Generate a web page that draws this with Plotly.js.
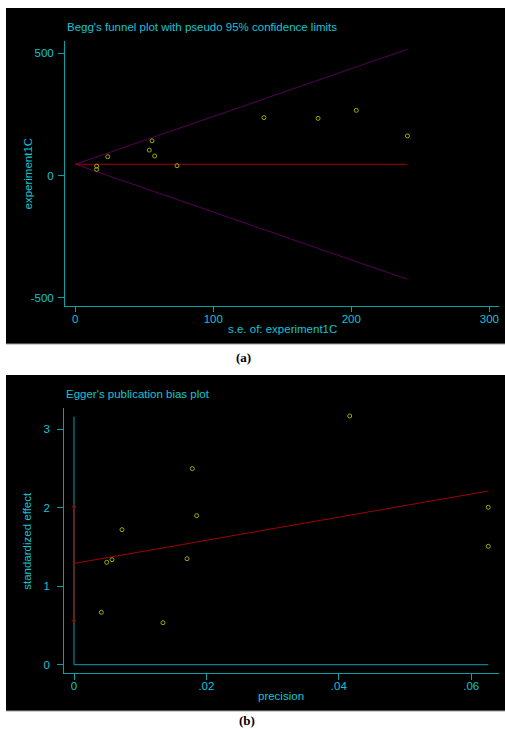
<!DOCTYPE html>
<html>
<head>
<meta charset="utf-8">
<script src="https://cdn.plot.ly/plotly-3.0.1.min.js"></script>
<style>
html,body{margin:0;padding:0;background:#fff;}
#chart{width:505px;height:729px;}
</style>
</head>
<body>
<div id="chart"></div>
<script>
// ---- Panel (a): Begg's funnel plot ----
const beggSE = [15.5, 15.5, 23.5, 53.6, 55.6, 57.5, 73.7, 136.7, 175.9, 203.6, 240.6];
const beggEffect = [38, 25, 77, 104, 142, 80, 40, 237, 234, 267, 162];
const pooledX = [0, 240.6];
const pooledY = [46, 46];
const funnelX = [0, 240.6];
const funnelUpper = [46, 517];
const funnelLower = [46, -425];
const beggYTicks = [-500, 0, 500];
const beggYTickText = ['-500', '0', '500'];
const beggXTicks = [0, 100, 200, 300];
const beggXTickText = ['0', '100', '200', '300'];

// ---- Panel (b): Egger's publication bias plot ----
const precision = [0.04165, 0.01787, 0.01853, 0.00725, 0.06258, 0.06258, 0.00494, 0.00574, 0.01707, 0.00413, 0.01344];
const stdEffect = [3.168, 2.497, 1.898, 1.720, 2.005, 1.508, 1.304, 1.338, 1.350, 0.667, 0.535];
const eggerLineX = [0, 0.0626];
const eggerLineY = [1.29, 2.213];
const interceptCIX = [0, 0];
const interceptCIY = [0.56, 2.013];
const refVertX = [0, 0];
const refVertY = [0, 3.16];
const refHorizX = [0, 0.0626];
const refHorizY = [0, 0];
const eggerYTicks = [0, 1, 2, 3];
const eggerYTickText = ['0', '1', '2', '3'];
const eggerXTicks = [0, 0.02, 0.04, 0.06];
const eggerXTickText = ['0', '.02', '.04', '.06'];

const W = 505, H = 729;
const px = x => x / W;
const py = y => 1 - y / H;

const TXT = '#14c4d4';
const AX = '#08a0a8';
const PT = '#a8a800';
const RED = '#a00000';
const PUR = '#560056';
const FONT = 'Liberation Sans, Arial, sans-serif';
const FS = 11.5;

const traces = [
  {x: funnelX, y: funnelUpper, type: 'scatter', mode: 'lines', line: {color: PUR, width: 1}, xaxis: 'x', yaxis: 'y', hoverinfo: 'skip'},
  {x: funnelX, y: funnelLower, type: 'scatter', mode: 'lines', line: {color: PUR, width: 1}, xaxis: 'x', yaxis: 'y', hoverinfo: 'skip'},
  {x: pooledX, y: pooledY, type: 'scatter', mode: 'lines', line: {color: RED, width: 1}, xaxis: 'x', yaxis: 'y', hoverinfo: 'skip'},
  {x: beggSE, y: beggEffect, type: 'scatter', mode: 'markers', marker: {symbol: 'circle-open', size: 4, color: PT, line: {width: 1, color: PT}}, xaxis: 'x', yaxis: 'y'},

  {x: refVertX, y: refVertY, type: 'scatter', mode: 'lines', line: {color: AX, width: 1}, xaxis: 'x2', yaxis: 'y2', hoverinfo: 'skip'},
  {x: refHorizX, y: refHorizY, type: 'scatter', mode: 'lines', line: {color: AX, width: 1}, xaxis: 'x2', yaxis: 'y2', hoverinfo: 'skip'},
  {x: eggerLineX, y: eggerLineY, type: 'scatter', mode: 'lines', line: {color: RED, width: 1}, xaxis: 'x2', yaxis: 'y2', hoverinfo: 'skip'},
  {x: interceptCIX, y: interceptCIY, type: 'scatter', mode: 'lines+markers', line: {color: RED, width: 1}, marker: {symbol: 'circle-open', size: 3, color: RED, line: {width: 1, color: RED}}, xaxis: 'x2', yaxis: 'y2'},
  {x: precision, y: stdEffect, type: 'scatter', mode: 'markers', marker: {symbol: 'circle-open', size: 4, color: PT, line: {width: 1, color: PT}}, xaxis: 'x2', yaxis: 'y2'}
];

const axisCommon = {
  showline: true, linecolor: AX, linewidth: 1,
  ticks: 'outside', ticklen: 6, tickcolor: AX, tickwidth: 1,
  showgrid: false, zeroline: false,
  tickfont: {family: FONT, size: FS, color: TXT},
  tickmode: 'array', fixedrange: true
};

const layout = {
  width: W, height: H,
  margin: {l: 0, r: 0, t: 0, b: 0},
  paper_bgcolor: '#ffffff',
  plot_bgcolor: '#000000',
  showlegend: false,
  font: {family: FONT, color: TXT, size: FS},
  xaxis: Object.assign({}, axisCommon, {
    domain: [px(65), px(499)], anchor: 'y',
    range: [-7.46, 307.0],
    tickvals: beggXTicks, ticktext: beggXTickText, ticklen: 5, ticklabelstandoff: -3
  }),
  yaxis: Object.assign({}, axisCommon, {
    domain: [py(306), py(41)], anchor: 'x',
    range: [-534.4, 550.8],
    tickvals: beggYTicks, ticktext: beggYTickText, ticklabelstandoff: 2
  }),
  xaxis2: Object.assign({}, axisCommon, {
    domain: [px(64.3), px(499)], anchor: 'y2',
    range: [-0.001465, 0.0642],
    tickvals: eggerXTicks, ticktext: eggerXTickText, ticklabelstandoff: -4
  }),
  yaxis2: Object.assign({}, axisCommon, {
    domain: [py(673.3), py(408.3)], anchor: 'x2',
    range: [-0.1096, 3.266],
    tickvals: eggerYTicks, ticktext: eggerYTickText, ticklabelstandoff: 5
  }),
  shapes: [
    {type: 'rect', xref: 'paper', yref: 'paper', x0: px(6), x1: px(505), y0: py(344), y1: py(8), fillcolor: '#000000', line: {width: 0}, layer: 'below'},
    {type: 'rect', xref: 'paper', yref: 'paper', x0: px(6), x1: px(505), y0: py(711), y1: py(375), fillcolor: '#000000', line: {width: 0}, layer: 'below'},
    {type: 'line', xref: 'paper', yref: 'paper', x0: px(6), x1: px(505), y0: py(344), y1: py(344), line: {color: '#a0a0a0', width: 1}, layer: 'below'},
    {type: 'line', xref: 'paper', yref: 'paper', x0: px(6), x1: px(505), y0: py(711), y1: py(711), line: {color: '#a0a0a0', width: 1}, layer: 'below'}
  ],
  annotations: [
    {text: "Begg's funnel plot with pseudo 95% confidence limits", xref: 'paper', yref: 'paper', x: px(65), y: py(27), xanchor: 'left', yanchor: 'middle', showarrow: false, font: {family: FONT, size: FS, color: TXT}},
    {text: 'experiment1C', xref: 'paper', yref: 'paper', x: px(27), y: py(173.5), xanchor: 'center', yanchor: 'middle', textangle: -90, showarrow: false, font: {family: FONT, size: FS, color: TXT}},
    {text: 's.e. of: experiment1C', xref: 'paper', yref: 'paper', x: px(282), y: py(329), xanchor: 'center', yanchor: 'middle', showarrow: false, font: {family: FONT, size: FS, color: TXT}},
    {text: '<b>(a)</b>', xref: 'paper', yref: 'paper', x: px(243), y: py(357), xanchor: 'center', yanchor: 'middle', showarrow: false, font: {family: 'Liberation Serif, Times New Roman, serif', size: 13, color: '#000000'}},

    {text: "Egger's publication bias plot", xref: 'paper', yref: 'paper', x: px(64.3), y: py(394), xanchor: 'left', yanchor: 'middle', showarrow: false, font: {family: FONT, size: FS, color: TXT}},
    {text: 'standardized effect', xref: 'paper', yref: 'paper', x: px(27), y: py(540.8), xanchor: 'center', yanchor: 'middle', textangle: -90, showarrow: false, font: {family: FONT, size: FS, color: TXT}},
    {text: 'precision', xref: 'paper', yref: 'paper', x: px(281), y: py(695.7), xanchor: 'center', yanchor: 'middle', showarrow: false, font: {family: FONT, size: FS, color: TXT}},
    {text: '<b>(b)</b>', xref: 'paper', yref: 'paper', x: px(247), y: py(720), xanchor: 'center', yanchor: 'middle', showarrow: false, font: {family: 'Liberation Serif, Times New Roman, serif', size: 13, color: '#000000'}}
  ]
};

Plotly.newPlot('chart', traces, layout, {staticPlot: true, displayModeBar: false});
</script>
</body>
</html>
